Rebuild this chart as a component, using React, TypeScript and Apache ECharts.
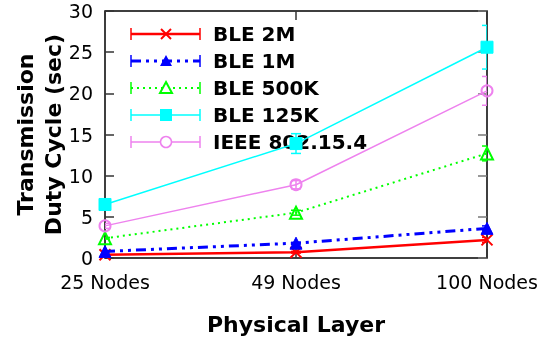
import React, { useEffect, useRef } from "react";
import * as echarts from "echarts";

const categories = ["25 Nodes", "49 Nodes", "100 Nodes"];
const seriesNames = ["BLE 2M", "BLE 1M", "BLE 500K", "BLE 125K", "IEEE 802.15.4"];
const ble2m = [0.4, 0.7, 2.2];
const ble1m = [0.8, 1.8, 3.6];
const ble500k = [2.4, 5.5, 12.7];
const ble125k = [6.5, 13.9, 25.6];
const ieee = [3.9, 8.9, 20.3];
const err2m = [0.05, 0.1, 0.3];
const err1m = [0.05, 0.1, 0.3];
const err500k = [0.1, 0.3, 0.9];
const err125k = [0.3, 1.2, 2.65];
const errIeee = [0.3, 0.5, 1.75];
const yTicks = { min: 0, max: 30, interval: 5 };

const FONT = "DejaVu Sans";
const colors = ["#ff0000", "#0000ff", "#00ff00", "#00ffff", "#ee82ee"];
const lineTypes: any[] = ["solid", [10, 5, 3, 5, 3, 5], [2, 4], "solid", "solid"];
const lineWidths = [2.5, 3, 2, 1.5, 1.5];
const crossPath = "path://M0,0L10,10M10,0L0,10";
const symbols = [crossPath, "triangle", "triangle", "rect", "circle"];
const symbolSizes = [11, 12, 12, 12, 11];
const filled = [false, true, false, true, false];

export default function App() {
  const ref = useRef<HTMLDivElement>(null);
  useEffect(() => {
    if (!ref.current) return;
    const chart = echarts.init(ref.current, null, { renderer: "svg" });
    const values = [ble2m, ble1m, ble500k, ble125k, ieee];
    const errs = [err2m, err1m, err500k, err125k, errIeee];

    const lineSeries = seriesNames.map((name, i) => ({
      name,
      type: "line",
      data: values[i],
      symbol: symbols[i],
      symbolSize: symbolSizes[i],
      showAllSymbol: true,
      lineStyle: { color: colors[i], width: lineWidths[i], type: lineTypes[i] },
      itemStyle: filled[i]
        ? { color: colors[i], borderColor: colors[i], borderWidth: 1 }
        : { color: "transparent", borderColor: colors[i], borderWidth: 2 },
      z: 3 + i,
    }));

    const errSeries = seriesNames.map((name, i) => ({
      name: name + " err",
      type: "custom",
      clip: true,
      data: values[i].map((v, j) => [j, v - errs[i][j], v + errs[i][j]]),
      renderItem: (params: any, api: any) => {
        const x = api.value(0);
        const lo = api.coord([x, api.value(1)]);
        const hi = api.coord([x, api.value(2)]);
        const cw = 5;
        const st = { stroke: colors[i], lineWidth: 1.5 };
        return {
          type: "group",
          children: [
            { type: "line", shape: { x1: lo[0], y1: lo[1], x2: hi[0], y2: hi[1] }, style: st },
            { type: "line", shape: { x1: lo[0] - cw, y1: lo[1], x2: lo[0] + cw, y2: lo[1] }, style: st },
            { type: "line", shape: { x1: hi[0] - cw, y1: hi[1], x2: hi[0] + cw, y2: hi[1] }, style: st },
          ],
        };
      },
      z: 2 + i,
    }));

    const legendChildren: any[] = [];
    const lx1 = 131, lx2 = 200, mx = 166, ty = 34, dy = 27;
    seriesNames.forEach((name, i) => {
      const y = ty + dy * i;
      const st: any = { stroke: colors[i], lineWidth: lineWidths[i] };
      if (Array.isArray(lineTypes[i])) st.lineDash = lineTypes[i];
      legendChildren.push({ type: "line", shape: { x1: lx1, y1: y, x2: lx2, y2: y }, style: st });
      legendChildren.push({ type: "line", shape: { x1: lx1, y1: y - 6, x2: lx1, y2: y + 6 }, style: { stroke: colors[i], lineWidth: 1.5 } });
      legendChildren.push({ type: "line", shape: { x1: lx2, y1: y - 6, x2: lx2, y2: y + 6 }, style: { stroke: colors[i], lineWidth: 1.5 } });
      if (i === 0) {
        legendChildren.push({ type: "line", shape: { x1: mx - 5, y1: y - 5, x2: mx + 5, y2: y + 5 }, style: { stroke: colors[i], lineWidth: 2 } });
        legendChildren.push({ type: "line", shape: { x1: mx + 5, y1: y - 5, x2: mx - 5, y2: y + 5 }, style: { stroke: colors[i], lineWidth: 2 } });
      } else if (i === 1 || i === 2) {
        legendChildren.push({
          type: "polygon",
          shape: { points: [[mx, y - 6], [mx + 6, y + 5], [mx - 6, y + 5]] },
          style: filled[i] ? { fill: colors[i] } : { fill: "#fff", stroke: colors[i], lineWidth: 2 },
        });
      } else if (i === 3) {
        legendChildren.push({ type: "rect", shape: { x: mx - 6, y: y - 6, width: 12, height: 12 }, style: { fill: colors[i] } });
      } else {
        legendChildren.push({ type: "circle", shape: { cx: mx, cy: y, r: 5.5 }, style: { fill: "#fff", stroke: colors[i], lineWidth: 1.5 } });
      }
      legendChildren.push({
        type: "text",
        x: 213,
        y: y,
        style: { text: name, font: `bold 20px "${FONT}"`, fill: "#000", verticalAlign: "middle" },
      });
    });

    const tickStyle = { show: true, inside: true, length: 9, lineStyle: { color: "#333", width: 1.5 } };

    chart.setOption({
      animation: false,
      textStyle: { fontFamily: FONT },
      grid: {
        left: 105, right: 53, top: 11, bottom: 83,
        show: true, borderColor: "#000", borderWidth: 1.5, backgroundColor: "transparent",
        outerBoundsMode: "none", containLabel: false,
      },
      xAxis: [
        {
          type: "category",
          data: categories,
          boundaryGap: false,
          axisLine: { show: false, onZero: false },
          axisTick: tickStyle,
          axisLabel: { fontSize: 19, color: "#000", margin: 14, fontFamily: FONT },
          name: "Physical Layer",
          nameLocation: "middle",
          nameGap: 55,
          nameMoveOverlap: false,
          nameTextStyle: { fontSize: 22, fontWeight: "bold", color: "#000", fontFamily: FONT },
          splitLine: { show: false },
        },
        {
          type: "category",
          data: categories,
          boundaryGap: false,
          position: "top",
          axisLine: { show: false, onZero: false },
          axisTick: tickStyle,
          axisLabel: { show: false },
          splitLine: { show: false },
        },
      ],
      yAxis: [
        {
          type: "value",
          min: yTicks.min,
          max: yTicks.max,
          interval: yTicks.interval,
          axisLine: { show: false, onZero: false },
          axisTick: tickStyle,
          axisLabel: { fontSize: 19, color: "#000", margin: 12, fontFamily: FONT },
          splitLine: { show: false },
          name: "Transmission\nDuty Cycle (sec)",
          nameLocation: "middle",
          nameRotate: 90,
          nameGap: 38,
          nameMoveOverlap: false,
          nameTextStyle: { fontSize: 22, fontWeight: "bold", color: "#000", lineHeight: 28, fontFamily: FONT },
        },
        {
          type: "value",
          min: yTicks.min,
          max: yTicks.max,
          interval: yTicks.interval,
          position: "right",
          axisLine: { show: false, onZero: false },
          axisTick: { ...tickStyle, lineStyle: { color: "#777", width: 1.5 } },
          axisLabel: { show: false },
          splitLine: { show: false },
        },
      ],
      series: [...errSeries, ...lineSeries],
      graphic: [{ type: "group", children: legendChildren, z: 100 }],
    });
    return () => chart.dispose();
  }, []);
  return <div ref={ref} style={{ position: "fixed", left: 0, top: 0, width: 540, height: 341 }} />;
}
